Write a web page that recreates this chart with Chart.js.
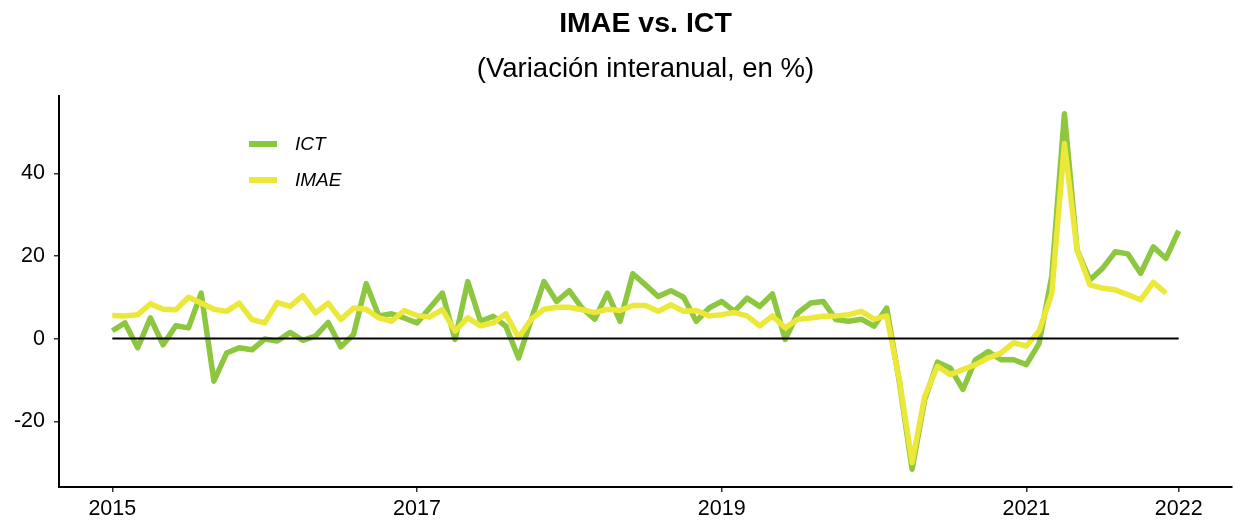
<!DOCTYPE html>
<html>
<head>
<meta charset="utf-8">
<script src="https://cdn.jsdelivr.net/npm/chart.js@4.4.1/dist/chart.umd.min.js"></script>
<style>
  html, body { margin: 0; padding: 0; background: #fff; }
  canvas { display: block; }
</style>
</head>
<body>
<canvas id="myChart" width="1235" height="521"></canvas>
<script>
// Monthly series, January 2015 onwards (year-on-year change, %)
const startYear = 2015;
const ict = [
  1.9, 3.8, -2.2, 5.0, -1.5, 3.1, 2.6, 11.0, -10.3, -3.5, -2.2, -2.7,
  -0.1, -0.6, 1.5, -0.4, 0.6, 3.9, -2.0, 1.0, 13.3, 5.5, 6.0, 5.0,
  3.8, 7.4, 11.0, -0.2, 13.8, 4.2, 5.4, 3.0, -4.7, 4.6, 13.8, 9.0,
  11.6, 7.4, 4.7, 11.0, 4.2, 15.7, 13.0, 10.2, 11.6, 10.0, 4.2, 7.4,
  9.0, 6.6, 9.8, 7.8, 10.8, -0.2, 6.2, 8.6, 9.0, 4.6, 4.2, 4.7,
  3.0, 7.4, -10.5, -31.6, -14.7, -5.7, -7.1, -12.3, -5.1, -3.1, -5.1, -5.1,
  -6.3, -1.2, 15.0, 54.4, 21.4, 14.2, 17.0, 21.0, 20.5, 15.8, 22.2, 19.4,
  26.1
];
const imae = [
  5.6, 5.5, 5.8, 8.4, 7.1, 7.0, 10.0, 8.6, 7.1, 6.6, 8.6, 4.6,
  3.8, 8.7, 7.8, 10.4, 6.2, 8.6, 4.6, 7.4, 7.1, 5.0, 4.2, 6.8,
  5.6, 5.2, 7.0, 1.8, 5.0, 3.1, 3.8, 6.0, 0.2, 4.7, 7.1, 7.6,
  7.6, 7.0, 6.3, 7.1, 6.8, 8.0, 8.0, 6.6, 8.2, 6.6, 6.8, 5.5,
  5.8, 6.3, 5.5, 3.1, 5.5, 2.6, 4.7, 5.0, 5.4, 5.5, 5.8, 6.6,
  4.7, 5.5, -10.0, -30.0, -13.9, -6.7, -8.7, -7.5, -6.3, -4.7, -3.5, -1.0,
  -1.8, 1.8, 10.8, 47.2, 21.4, 13.0, 12.2, 11.8, 10.6, 9.4, 13.6, 11.0
];
const tickYears = [2015, 2017, 2019, 2021, 2022];
const yTicks = [-20, 0, 20, 40];

const titleText = 'IMAE vs. ICT';
const subtitleText = '(Variación interanual, en %)';
const fontFamily = '"Liberation Sans", Arial, sans-serif';

// month index -> point
const toPoints = arr => arr.map((v, i) => ({ x: i, y: v }));
const lastMonth = ict.length - 1;

// title, subtitle and the in-panel legend
const overlay = {
  id: 'overlay',
  afterDraw(chart) {
    const { ctx, chartArea } = chart;
    const cx = (chartArea.left + chartArea.right) / 2;
    ctx.save();
    ctx.fillStyle = '#000';
    ctx.textAlign = 'center';
    ctx.textBaseline = 'alphabetic';
    ctx.font = 'bold 28.5px ' + fontFamily;
    ctx.fillText(titleText, cx, 32);
    ctx.font = '27.5px ' + fontFamily;
    ctx.fillText(subtitleText, cx, 77);

    const items = chart.data.datasets.filter(d => d.label);
    items.forEach((d, i) => {
      const y = 144 + i * 36;
      ctx.strokeStyle = d.borderColor;
      ctx.lineWidth = 6;
      ctx.beginPath();
      ctx.moveTo(249, y);
      ctx.lineTo(277, y);
      ctx.stroke();
      ctx.fillStyle = '#000';
      ctx.textAlign = 'left';
      ctx.textBaseline = 'middle';
      ctx.font = 'italic 19px ' + fontFamily;
      ctx.fillText(d.label, 295, y + 1);
    });
    ctx.restore();
  }
};

const ctx = document.getElementById('myChart').getContext('2d');
new Chart(ctx, {
  type: 'line',
  data: {
    datasets: [
      {
        data: [{ x: 0, y: 0 }, { x: lastMonth, y: 0 }],
        borderColor: '#000',
        borderWidth: 2,
        pointRadius: 0,
        order: 0
      },
      {
        label: 'ICT',
        data: toPoints(ict),
        borderColor: '#8dc63f',
        borderWidth: 5.5,
        pointRadius: 0,
        borderJoinStyle: 'round',
        tension: 0,
        order: 2
      },
      {
        label: 'IMAE',
        data: toPoints(imae),
        borderColor: '#ebe83a',
        borderWidth: 5.5,
        pointRadius: 0,
        borderJoinStyle: 'round',
        tension: 0,
        order: 1
      }
    ]
  },
  options: {
    responsive: false,
    animation: false,
    devicePixelRatio: 1,
    layout: { padding: { top: 96, right: 3, left: 0, bottom: 0 } },
    plugins: {
      legend: { display: false },
      tooltip: { enabled: false },
      title: { display: false }
    },
    scales: {
      x: {
        type: 'linear',
        min: -4.2,
        max: 88.2,
        afterBuildTicks: axis => {
          axis.ticks = tickYears.map(yr => ({ value: (yr - startYear) * 12 }));
        },
        afterFit: axis => { axis.height = 34; },
        ticks: {
          callback: v => String(startYear + v / 12),
          color: '#000',
          font: { family: fontFamily, size: 21.5 },
          padding: 4,
          maxRotation: 0,
          autoSkip: false
        },
        grid: { drawOnChartArea: false, drawTicks: true, tickLength: 5, color: '#333', lineWidth: 1.5 },
        border: { display: true, color: '#000', width: 2 }
      },
      y: {
        min: -35.9,
        max: 58.7,
        afterBuildTicks: axis => {
          axis.ticks = yTicks.map(v => ({ value: v }));
        },
        afterFit: axis => { axis.width = 59; },
        ticks: {
          color: '#000',
          font: { family: fontFamily, size: 21.5 },
          padding: 9
        },
        grid: { drawOnChartArea: false, drawTicks: true, tickLength: 5, color: '#333', lineWidth: 1.5 },
        border: { display: true, color: '#000', width: 2 }
      }
    }
  },
  plugins: [overlay]
});
</script>
</body>
</html>
